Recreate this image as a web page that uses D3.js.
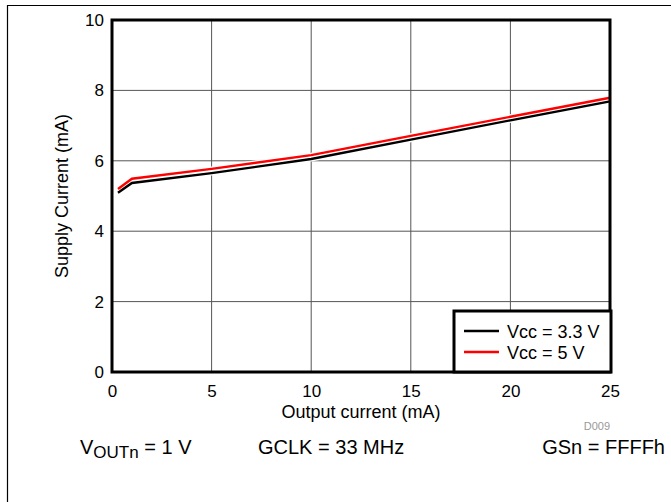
<!DOCTYPE html>
<html><head><meta charset="utf-8">
<script src="https://cdn.jsdelivr.net/npm/d3@7"></script>
<style>body{margin:0;background:#fff}svg{display:block;font-family:"Liberation Sans",Arial,sans-serif}</style>
</head><body><svg id="c" width="671" height="502"></svg>
<script>
const xVals = [0.3, 1, 5, 10, 15, 20, 25];
const vcc33 = [5.09, 5.37, 5.65, 6.05, 6.6, 7.15, 7.69];
const vcc5 = [5.2, 5.49, 5.77, 6.16, 6.71, 7.25, 7.79];
const xTicks = [0, 5, 10, 15, 20, 25];
const yTicks = [0, 2, 4, 6, 8, 10];
const seriesNames = ["Vcc = 3.3 V", "Vcc = 5 V"];
const seriesColors = ["#000000", "#ff0000"];

const svg = d3.select("#c");
const L = 112, R = 610, T = 20, B = 372;
const x = d3.scaleLinear().domain([0, 25]).range([L, R]);
const y = d3.scaleLinear().domain([0, 10]).range([B, T]);
const FF = "Liberation Sans, Arial, sans-serif";

// outer frame
svg.append("path").attr("d", "M7.5,502 V5.5 H671").attr("fill", "none").attr("stroke", "#000").attr("stroke-width", 1.2);

// grid
svg.append("g").selectAll("line").data(xTicks.slice(1, -1)).join("line")
  .attr("x1", d => x(d)).attr("x2", d => x(d)).attr("y1", T).attr("y2", B)
  .attr("stroke", "#555").attr("stroke-width", 1);
svg.append("g").selectAll("line").data(yTicks.slice(1, -1)).join("line")
  .attr("y1", d => y(d)).attr("y2", d => y(d)).attr("x1", L).attr("x2", R)
  .attr("stroke", "#555").attr("stroke-width", 1);

const xa = svg.append("g").attr("transform", `translate(0,${B})`)
  .call(d3.axisBottom(x).tickValues(xTicks).tickSize(0).tickPadding(13));
xa.select(".domain").remove();
xa.selectAll("text").attr("font-size", 17).attr("font-family", FF).attr("fill", "#000");
const ya = svg.append("g").attr("transform", `translate(${L},0)`)
  .call(d3.axisLeft(y).tickValues(yTicks).tickSize(0).tickPadding(8));
ya.select(".domain").remove();
ya.selectAll("text").attr("font-size", 17).attr("font-family", FF).attr("fill", "#000");

// lines
const line = d3.line().x(d => x(d[0])).y(d => y(d[1]));
[vcc33, vcc5].forEach((s, i) => {
  svg.append("path").datum(xVals.map((v, j) => [v, s[j]]))
    .attr("d", line).attr("fill", "none").attr("stroke", "#fff").attr("stroke-width", 5);
});
[vcc33, vcc5].forEach((s, i) => {
  svg.append("path").datum(xVals.map((v, j) => [v, s[j]]))
    .attr("d", line).attr("fill", "none").attr("stroke", seriesColors[i]).attr("stroke-width", 2.4);
});

// plot frame
svg.append("rect").attr("x", L).attr("y", T).attr("width", R - L).attr("height", B - T)
  .attr("fill", "none").attr("stroke", "#000").attr("stroke-width", 3);

// legend
const lg = svg.append("g");
lg.append("rect").attr("x", 454).attr("y", 311).attr("width", 157).attr("height", 61)
  .attr("fill", "#fff").attr("stroke", "#000").attr("stroke-width", 3);
seriesNames.forEach((n, i) => {
  const yy = 331 + i * 21;
  lg.append("line").attr("x1", 464).attr("x2", 499).attr("y1", yy).attr("y2", yy)
    .attr("stroke", seriesColors[i]).attr("stroke-width", 2.4);
  lg.append("text").attr("x", 507).attr("y", yy + 6.5).attr("font-size", 18).text(n);
});

// axis titles
svg.append("text").attr("x", 361).attr("y", 418).attr("text-anchor", "middle").attr("font-size", 18).text("Output current (mA)");
svg.append("text").attr("transform", "translate(68,196) rotate(-90)").attr("text-anchor", "middle").attr("font-size", 18).text("Supply Current (mA)");
svg.append("text").attr("x", 610).attr("y", 430).attr("text-anchor", "end").attr("font-size", 11).attr("fill", "#999").text("D009");

// conditions
const t1 = svg.append("text").attr("x", 80).attr("y", 454).attr("font-size", 20);
t1.append("tspan").text("V");
t1.append("tspan").attr("font-size", 17).attr("dy", 4).text("OUTn");
t1.append("tspan").attr("dy", -4).text(" = 1 V");
svg.append("text").attr("x", 258).attr("y", 454).attr("font-size", 20).text("GCLK = 33 MHz");
svg.append("text").attr("x", 665).attr("y", 454).attr("text-anchor", "end").attr("font-size", 20).text("GSn = FFFFh");
</script></body></html>
